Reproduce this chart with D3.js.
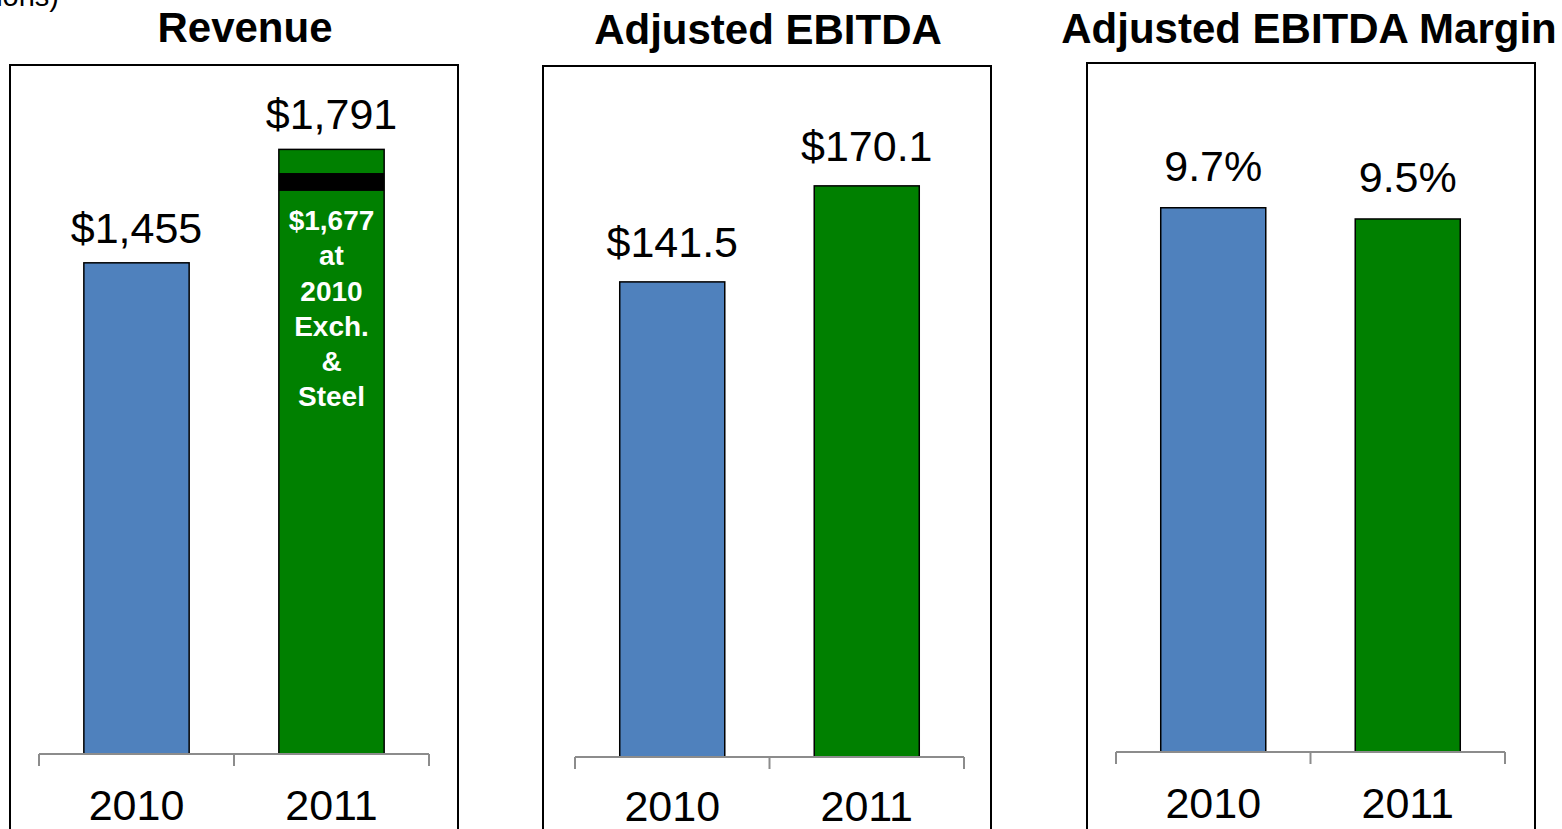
<!DOCTYPE html>
<html>
<head>
<meta charset="utf-8">
<script src="https://cdn.jsdelivr.net/npm/d3@7"></script>
<style>
  html, body { margin: 0; padding: 0; background: #fff; }
  svg { display: block; }
  text { font-family: "Liberation Sans", Arial, Helvetica, sans-serif; }
</style>
</head>
<body>
<svg id="chart" width="1562" height="829"></svg>
<script>
// ---- Data ----
const categories = ["2010", "2011"];
const revenue = [1455, 1791];
const adjEbitda = [141.5, 170.1];
const ebitdaMargin = [9.7, 9.5];
const revenueLabels = ["$1,455", "$1,791"];
const ebitdaLabels = ["$141.5", "$170.1"];
const marginLabels = ["9.7%", "9.5%"];
const titles = ["Revenue", "Adjusted EBITDA", "Adjusted EBITDA Margin"];
const barColors = ["#4F81BD", "#008000"];
// constant-currency marker band inside the 2011 revenue bar
const constantCurrencyBand = [1668, 1721];
const constantCurrencyNote = ["$1,677", "at", "2010", "Exch.", "&", "Steel"];
const unitsNote = "($ in millions)";

// ---- Layout ----
const panels = [
  { title: titles[0], values: revenue, labels: revenueLabels, yMax: 2041,
    box: { x: 10, y: 65, w: 448 }, axis: { x0: 39, x1: 429, y: 754 },
    titleX: 245, titleY: 42, labelGap: 20, catY: 820 },
  { title: titles[1], values: adjEbitda, labels: ebitdaLabels, yMax: 205.8,
    box: { x: 543, y: 66, w: 448 }, axis: { x0: 575, x1: 964, y: 757 },
    titleX: 768, titleY: 44, labelGap: 25, catY: 821 },
  { title: titles[2], values: ebitdaMargin, labels: marginLabels, yMax: 12.28,
    box: { x: 1087, y: 63, w: 448 }, axis: { x0: 1116, x1: 1505, y: 752 },
    titleX: 1309, titleY: 43, labelGap: 27, catY: 818 }
];

const svg = d3.select("#chart");

svg.append("text")
  .attr("x", 59).attr("y", 6)
  .attr("text-anchor", "end")
  .attr("font-size", 29)
  .attr("fill", "#000")
  .text(unitsNote);

panels.forEach((p, pi) => {
  const g = svg.append("g");

  // frame (open at the bottom, running off the page)
  g.append("path")
    .attr("d", `M${p.box.x},${829 + 5}V${p.box.y}H${p.box.x + p.box.w}V${829 + 5}`)
    .attr("fill", "none")
    .attr("stroke", "#000")
    .attr("stroke-width", 2);

  g.append("text")
    .attr("x", p.titleX).attr("y", p.titleY)
    .attr("text-anchor", "middle")
    .attr("font-size", 42)
    .attr("font-weight", "bold")
    .attr("fill", "#000")
    .text(p.title);

  const slot = d3.scaleBand().domain(categories).range([p.axis.x0, p.axis.x1]).padding(0);
  const y = d3.scaleLinear().domain([0, p.yMax]).range([p.axis.y, p.box.y]);
  const barW = slot.bandwidth() * 0.54;
  const bx = c => slot(c) + (slot.bandwidth() - barW) / 2;

  const data = categories.map((c, i) => ({ c, v: p.values[i], label: p.labels[i], color: barColors[i] }));

  g.selectAll("rect.bar").data(data).enter().append("rect")
    .attr("class", "bar")
    .attr("x", d => bx(d.c))
    .attr("y", d => y(d.v))
    .attr("width", barW)
    .attr("height", d => y(0) - y(d.v))
    .attr("fill", d => d.color)
    .attr("stroke", "#000")
    .attr("stroke-width", 1.5);

  g.selectAll("text.val").data(data).enter().append("text")
    .attr("class", "val")
    .attr("x", d => slot(d.c) + slot.bandwidth() / 2)
    .attr("y", d => y(d.v) - p.labelGap)
    .attr("text-anchor", "middle")
    .attr("font-size", 43)
    .attr("fill", "#000")
    .text(d => d.label);

  // axis: line with ticks at slot boundaries
  const bounds = categories.map(c => slot(c)).concat([slot(categories[categories.length - 1]) + slot.bandwidth()]);
  g.append("line")
    .attr("x1", p.axis.x0).attr("x2", p.axis.x1)
    .attr("y1", y(0)).attr("y2", y(0))
    .attr("stroke", "#8c8c8c").attr("stroke-width", 2);
  g.selectAll("line.tick").data(bounds).enter().append("line")
    .attr("class", "tick")
    .attr("x1", d => d).attr("x2", d => d)
    .attr("y1", y(0)).attr("y2", y(0) + 12)
    .attr("stroke", "#8c8c8c").attr("stroke-width", 2);

  g.selectAll("text.cat").data(categories).enter().append("text")
    .attr("class", "cat")
    .attr("x", c => slot(c) + slot.bandwidth() / 2)
    .attr("y", p.catY)
    .attr("text-anchor", "middle")
    .attr("font-size", 43)
    .attr("fill", "#000")
    .text(c => c);

  if (pi === 0) {
    const c = categories[1];
    g.append("rect")
      .attr("x", bx(c))
      .attr("y", y(constantCurrencyBand[1]))
      .attr("width", barW)
      .attr("height", y(constantCurrencyBand[0]) - y(constantCurrencyBand[1]))
      .attr("fill", "#000");
    const cx = slot(c) + slot.bandwidth() / 2;
    g.selectAll("text.note").data(constantCurrencyNote).enter().append("text")
      .attr("class", "note")
      .attr("x", cx)
      .attr("y", (d, i) => y(constantCurrencyBand[0]) + 39 + i * 35.3)
      .attr("text-anchor", "middle")
      .attr("font-size", 28)
      .attr("font-weight", "bold")
      .attr("fill", "#fff")
      .text(d => d);
  }
});
</script>
</body>
</html>
